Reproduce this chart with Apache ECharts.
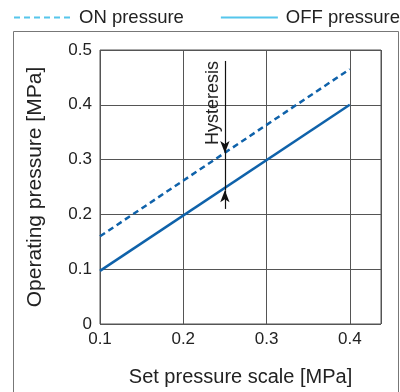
<!DOCTYPE html>
<html><head><meta charset="utf-8">
<script src="https://cdn.jsdelivr.net/npm/echarts@6/dist/echarts.min.js"></script>
<style>html,body{margin:0;padding:0;background:#fff}#c{width:400px;height:392px}</style>
</head><body><div id="c"></div>
<script>
var setPressure = [0.1, 0.4];
var onPressure = [0.16, 0.465];
var offPressure = [0.097, 0.4];
var seriesNames = ['ON pressure', 'OFF pressure'];
var xTicks = [0.1, 0.2, 0.3, 0.4];
var yTicks = [0, 0.1, 0.2, 0.3, 0.4, 0.5];
var hystX = 0.25;
var hystTop = 0.48;
var hystBottom = 0.21;
var hystOn = 0.312;
var hystOff = 0.244;
var hystLabel = 'Hysteresis';

var lineColor = '#0f62aa';
var legendColor = '#55c6ec';
var textColor = '#222';
var gridColor = '#555';
var font = 'Liberation Sans, Arial, sans-serif';

function pairs(xs, ys){ return xs.map(function(x,i){ return [x, ys[i]]; }); }

var chart = echarts.init(document.getElementById('c'), null, {renderer:'canvas'});
chart.setOption({
  animation:false,
  legend:{
    left: 8, top: 3, width: 420, itemWidth: 57, itemHeight: 14, itemGap: 36,
    textStyle:{fontFamily:font, fontSize:18.5, color:textColor, padding:[0,0,0,3]},
    data:[
      {name:seriesNames[0], itemStyle:{opacity:0}, lineStyle:{color:legendColor, type:[6,4], width:2}},
      {name:seriesNames[1], itemStyle:{opacity:0}, lineStyle:{color:legendColor, type:'solid', width:2}}
    ]
  },
  grid:{left:100, right:19, top:50, bottom:67, show:true, borderColor:gridColor, borderWidth:1},
  xAxis:{
    type:'value', min:xTicks[0], max:0.4375, interval:0.1,
    name:'Set pressure scale [MPa]', nameLocation:'middle', nameGap:43,
    nameTextStyle:{fontFamily:font, fontSize:20, color:textColor},
    axisLine:{show:false}, axisTick:{show:false},
    axisLabel:{fontFamily:font, fontSize:17, color:textColor, margin:7, showMaxLabel:false,
      formatter:function(v){ var r=Math.round(v*10)/10; return (xTicks.indexOf(r)>=0 && Math.abs(v-r)<1e-6) ? String(r) : ''; }},
    splitLine:{show:true, lineStyle:{color:gridColor, width:1}}
  },
  yAxis:{
    type:'value', min:yTicks[0], max:yTicks[yTicks.length-1], interval:0.1,
    name:'Operating pressure [MPa]', nameLocation:'middle', nameGap:54,
    nameTextStyle:{fontFamily:font, fontSize:21, color:textColor},
    axisLine:{show:false}, axisTick:{show:false},
    axisLabel:{fontFamily:font, fontSize:17, color:textColor, margin:8,
      formatter:function(v){ return String(Math.round(v*10)/10); }},
    splitLine:{show:true, lineStyle:{color:gridColor, width:1}}
  },
  series:[
    {name:seriesNames[0], type:'line', data:pairs(setPressure,onPressure), symbol:'none',
     lineStyle:{color:lineColor, width:2.5, type:[6,4]}, itemStyle:{color:lineColor}},
    {name:seriesNames[1], type:'line', data:pairs(setPressure,offPressure), symbol:'none',
     lineStyle:{color:lineColor, width:2.5}, itemStyle:{color:lineColor},
     markLine:{
       silent:true, symbolSize:[7,12], animation:false,
       lineStyle:{color:'#111', width:1.2, type:'solid'},
       label:{show:false},
       data:[
         [{coord:[hystX,hystTop], symbol:'none'},{coord:[hystX,hystOn], symbol:'arrow'}],
         [{coord:[hystX,hystBottom], symbol:'none'},{coord:[hystX,hystOff], symbol:'arrow'}],
         [{coord:[hystX,hystOn], symbol:'none'},{coord:[hystX,hystOff], symbol:'none'}]
       ]
     }}
  ]
});
var topPx = chart.convertToPixel({gridIndex:0}, [hystX, hystTop]);
chart.setOption({graphic:[
  {type:'rect', shape:{x:13.5, y:31.5, width:385, height:400}, style:{fill:null, stroke:'#777', lineWidth:1}, silent:true, z:-1},
  {type:'text', x:topPx[0]-3, y:topPx[1], rotation:Math.PI/2,
   style:{text:hystLabel, font:'18px '+font, fill:textColor, align:'right', verticalAlign:'bottom'}}
]});
</script></body></html>
